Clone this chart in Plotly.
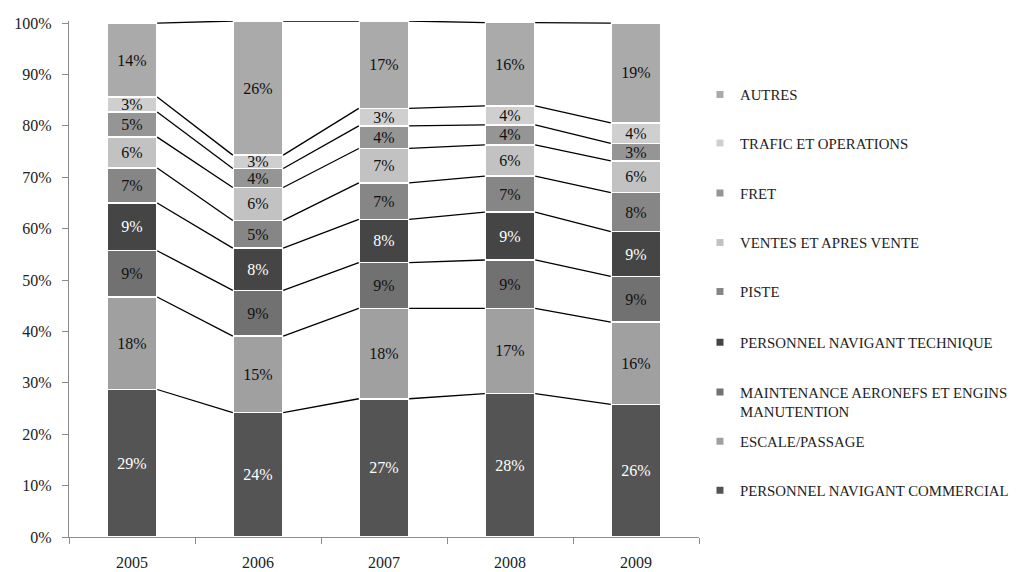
import plotly.graph_objects as go

years = ["2005", "2006", "2007", "2008", "2009"]

series_names = [
    "PERSONNEL NAVIGANT COMMERCIAL",
    "ESCALE/PASSAGE",
    "MAINTENANCE AERONEFS ET ENGINS<br>MANUTENTION",
    "PERSONNEL NAVIGANT TECHNIQUE",
    "PISTE",
    "VENTES ET APRES VENTE",
    "FRET",
    "TRAFIC ET OPERATIONS",
    "AUTRES",
]

pnc = [28.7, 24.2, 26.9, 27.9, 25.8]
escale = [18.0, 14.9, 17.6, 16.6, 16.0]
maintenance = [9.0, 8.9, 8.9, 9.4, 8.9]
pnt = [9.3, 8.2, 8.4, 9.3, 8.7]
piste = [6.8, 5.4, 7.1, 7.0, 7.6]
ventes = [6.0, 6.4, 6.7, 6.1, 6.2]
fret = [4.9, 3.7, 4.4, 3.9, 3.4]
trafic = [2.9, 2.6, 3.4, 3.7, 4.0]
autres = [14.4, 26.1, 17.0, 16.2, 19.4]

y_ticks = [0, 10, 20, 30, 40, 50, 60, 70, 80, 90, 100]

series_values = [pnc, escale, maintenance, pnt, piste, ventes, fret, trafic, autres]

colors = ["#545454", "#a0a0a0", "#717171", "#454545", "#868686",
          "#c2c2c2", "#959595", "#cfcfcf", "#aaaaaa"]
text_colors = ["white", "#111", "#111", "white", "#111", "#111", "#111", "#111", "#111"]
legend_y = [0.0897, 0.1847, 0.262, 0.3766, 0.475, 0.570, 0.666, 0.763, 0.8566]

FONT = "Liberation Serif"
BAR_W = 0.4
xs = list(range(len(years)))

fig = go.Figure()

for k, (name, vals) in enumerate(zip(series_names, series_values)):
    fig.add_trace(go.Bar(
        x=xs, y=vals, width=BAR_W,
        marker=dict(color=colors[k], line=dict(color="white", width=1.5)),
        text=[f"{round(v)}%" for v in vals],
        textposition="inside", insidetextanchor="middle", textangle=0,
        constraintext="none",
        textfont=dict(family=FONT, size=16, color=text_colors[k]),
        showlegend=False, hoverinfo="skip",
    ))

# series lines connecting the cumulative tops of adjacent bars
cum = [0.0] * len(years)
for k, vals in enumerate(series_values):
    cum = [c + v for c, v in zip(cum, vals)]
    lx, ly = [], []
    for i in range(len(years) - 1):
        lx += [xs[i] + BAR_W / 2, xs[i + 1] - BAR_W / 2, None]
        ly += [cum[i], cum[i + 1], None]
    fig.add_trace(go.Scatter(x=lx, y=ly, mode="lines",
                             line=dict(color="black", width=1.3),
                             showlegend=False, hoverinfo="skip"))

# legend entries (one legend each so spacing matches)
layout_legends = {}
for k, name in enumerate(series_names):
    lname = "legend" if k == 0 else f"legend{k + 1}"
    fig.add_trace(go.Scatter(
        x=[None], y=[None], mode="markers", name=name,
        marker=dict(symbol="square", size=7, color=colors[k]),
        legend=lname, showlegend=True,
    ))
    layout_legends[lname] = dict(
        xref="container", x=0.6831, xanchor="left",
        y=legend_y[k], yanchor="middle",
        bgcolor="rgba(0,0,0,0)", borderwidth=0,
        font=dict(family=FONT, size=14.8, color="#222"),
        valign="top", itemclick=False, itemdoubleclick=False,
    )

fig.update_layout(
    width=1013, height=564,
    margin=dict(l=61, r=322, t=13, b=35),
    paper_bgcolor="white", plot_bgcolor="white",
    barmode="stack",
    uniformtext=dict(minsize=16, mode="show"),
    font=dict(family=FONT, size=16, color="#222"),
    xaxis=dict(
        range=[-0.5, len(years) - 0.5], automargin=False,
        tickmode="array", tickvals=xs, ticktext=years,
        ticks="", showgrid=False, zeroline=False,
        showline=True, linecolor="#8c8c8c", linewidth=1.3,
        ticklabelstandoff=11,
        tickfont=dict(family=FONT, size=16, color="#222"),
        minor=dict(tickmode="array",
                   tickvals=[i - 0.5 for i in range(len(years) + 1)],
                   ticks="outside", ticklen=6, tickcolor="#8c8c8c",
                   tickwidth=1.3, showgrid=False),
    ),
    yaxis=dict(
        range=[0, 100.4], automargin=False,
        tickmode="array", tickvals=y_ticks,
        ticktext=[f"{t}%" for t in y_ticks],
        ticks="outside", ticklen=6, tickcolor="#8c8c8c", tickwidth=1.3,
        showgrid=False, zeroline=False,
        showline=True, linecolor="#8c8c8c", linewidth=1.3,
        ticklabelstandoff=7,
        tickfont=dict(family=FONT, size=16, color="#222"),
    ),
    **layout_legends,
)

fig.write_html("out.html")
